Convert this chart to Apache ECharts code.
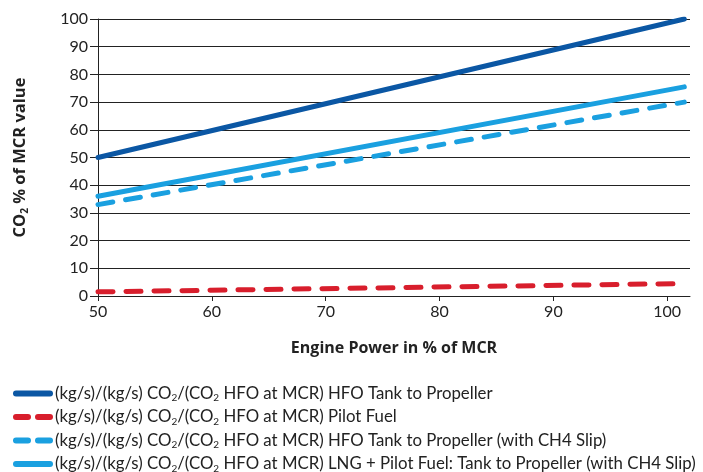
<!DOCTYPE html>
<html>
<head>
<meta charset="utf-8">
<script src="https://cdn.jsdelivr.net/npm/echarts@6/dist/echarts.min.js"></script>
<style>
  html, body { margin: 0; padding: 0; background: #fff; }
  #chart { width: 703px; height: 472px; }
</style>
</head>
<body>
<div id="chart"></div>
<script>
// x values (engine power % of MCR) at the line ends
var powerPts = [50, 101.5];
var hfoTank = [50, 100];
var pilotFuel = [1.5, 4.5];
var hfoSlip = [33, 70];
var lngSlip = [36, 75.5];

var seriesNames = ['HFO Tank to Propeller', 'Pilot Fuel', 'HFO Tank to Propeller (with CH4 Slip)', 'LNG + Pilot Fuel: Tank to Propeller (with CH4 Slip)'];

function pairs(ys) {
    return powerPts.map(function (x, i) { return [x, ys[i]]; });
}

var chart = echarts.init(document.getElementById('chart'));
var font = 'Lato';
var boldFont = 'Open Sans';
var solidIcon = 'path://M3,0h34a3,3 0 0 1 0,6h-34a3,3 0 0 1 0,-6z';
var dashIcon = 'path://M3,0h12a3,3 0 0 1 0,6h-12a3,3 0 0 1 0,-6z M25,0h12a3,3 0 0 1 0,6h-12a3,3 0 0 1 0,-6z';

option = {
    animation: false,
    grid: {
        left: 98,
        right: 13,
        top: 19,
        bottom: 176
    },
    legend: {
        orient: 'vertical',
        left: 13,
        top: 385,
        height: 120,
        padding: 0,
        itemGap: 5.5,
        itemWidth: 40,
        itemHeight: 6,
        data: [
            { name: seriesNames[0], icon: solidIcon },
            { name: seriesNames[1], icon: dashIcon },
            { name: seriesNames[2], icon: dashIcon },
            { name: seriesNames[3], icon: solidIcon }
        ],
        formatter: function (name) {
            return '{t|(kg/s)/(kg/s) CO}{s|2}{t|/(CO}{s|2}{t| HFO at MCR) ' + name + '}';
        },
        textStyle: {
            fontFamily: font,
            color: '#222',
            padding: [0, 0, 0, -3],
            rich: {
                t: { fontSize: 16.8, fontFamily: font, color: '#222', height: 18 },
                s: { fontSize: 10, fontFamily: font, color: '#222', verticalAlign: 'bottom', padding: [9, 0, 0, 0] }
            }
        }
    },
    xAxis: {
        type: 'value',
        min: 50,
        max: 102,
        interval: 10,
        name: 'Engine Power in % of MCR',
        nameLocation: 'middle',
        nameGap: 44,
        nameTextStyle: { fontFamily: boldFont, fontWeight: 'bold', fontSize: 16, color: '#222' },
        axisLine: { show: true, lineStyle: { color: '#222', width: 1 } },
        axisTick: { show: true, length: 5, lineStyle: { color: '#222' } },
        axisLabel: {
            fontFamily: font, fontSize: 16, color: '#222', margin: 8,
            showMaxLabel: false
        },
        splitLine: { show: false }
    },
    yAxis: {
        type: 'value',
        min: 0,
        max: 100,
        interval: 10,
        name: '{b|CO}{s|2}{b| % of MCR value}',
        nameLocation: 'middle',
        nameRotate: 90,
        nameGap: 68,
        nameTextStyle: {
            fontFamily: boldFont, fontWeight: 'bold', fontSize: 16, color: '#222',
            rich: {
                b: { fontFamily: boldFont, fontWeight: 'bold', fontSize: 16.5, color: '#222' },
                s: { fontFamily: boldFont, fontWeight: 'bold', fontSize: 10, color: '#222', verticalAlign: 'bottom', padding: [9, 0, 0, 0] }
            }
        },
        axisLine: { show: true, lineStyle: { color: '#222', width: 1 } },
        axisTick: { show: true, length: 8, lineStyle: { color: '#222' } },
        axisLabel: { fontFamily: font, fontSize: 16, color: '#222', margin: 10 },
        splitLine: { show: true, lineStyle: { color: '#222', width: 1 } }
    },
    series: [
        {
            name: seriesNames[0],
            type: 'line',
            symbol: 'none',
            data: pairs(hfoTank),
            lineStyle: { color: '#0b57a4', width: 5, cap: 'round' },
            itemStyle: { color: '#0b57a4' },
            z: 4
        },
        {
            name: seriesNames[1],
            type: 'line',
            symbol: 'none',
            data: pairs(pilotFuel),
            lineStyle: { color: '#d81e2c', width: 5, type: [15, 13], cap: 'round' },
            itemStyle: { color: '#d81e2c' },
            z: 3
        },
        {
            name: seriesNames[2],
            type: 'line',
            symbol: 'none',
            data: pairs(hfoSlip),
            lineStyle: { color: '#1aa0e0', width: 5, type: [15, 13], cap: 'round' },
            itemStyle: { color: '#1aa0e0' },
            z: 3
        },
        {
            name: seriesNames[3],
            type: 'line',
            symbol: 'none',
            data: pairs(lngSlip),
            lineStyle: { color: '#1aa0e0', width: 5, cap: 'round' },
            itemStyle: { color: '#1aa0e0' },
            z: 3
        }
    ]
};

chart.setOption(option);
</script>
</body>
</html>
